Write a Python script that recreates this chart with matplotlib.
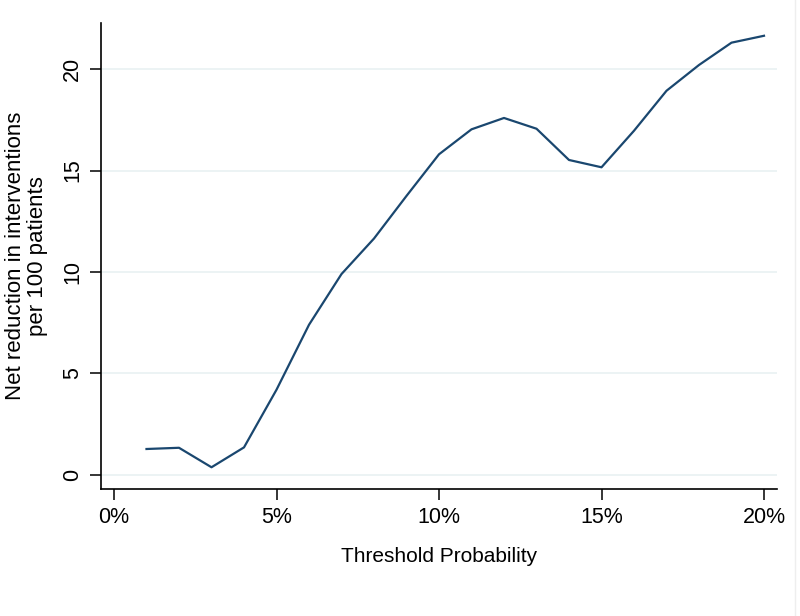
import matplotlib.pyplot as plt
import matplotlib.lines as mlines
from matplotlib.ticker import FuncFormatter

# net reduction in interventions per 100 patients, by threshold probability (%)
threshold = [1, 2, 3, 4, 5, 6, 7, 8, 9, 10, 11, 12, 13, 14, 15, 16, 17, 18, 19, 20]
net_reduction = [1.28, 1.34, 0.38, 1.36, 4.2, 7.4, 9.9, 11.65, 13.75, 15.8,
                 17.03, 17.59, 17.06, 15.52, 15.16, 16.96, 18.93, 20.2, 21.3, 21.64]
xticks = [0, 5, 10, 15, 20]
yticks = [0, 5, 10, 15, 20]

plt.rcParams['font.family'] = ['Liberation Sans', 'DejaVu Sans']

fig = plt.figure(figsize=(8, 6.16), dpi=100)
ax = fig.add_axes([0.12625, 0.2062, 0.845, 0.7565])

ax.plot(threshold, net_reduction, color='#1a476f', linewidth=1.6, zorder=3)

ax.set_xlim(-0.4, 20.4)
ax.set_ylim(-0.69, 22.27)
ax.set_xticks(xticks)
ax.set_yticks(yticks)
ax.xaxis.set_major_formatter(FuncFormatter(lambda v, p: '%d%%' % v))
ax.grid(axis='y', color='#eaf2f3', linewidth=1.3, zorder=0)
ax.set_axisbelow(True)

for s in ['top', 'right']:
    ax.spines[s].set_visible(False)
for s in ['left', 'bottom']:
    ax.spines[s].set_linewidth(1.2)
    ax.spines[s].set_color('black')

ax.tick_params(axis='both', length=8, width=1.1, labelsize=15.5, color='black')
ax.tick_params(axis='x', pad=5)
ax.tick_params(axis='y', pad=5)
for lab in ax.get_yticklabels():
    lab.set_rotation(90)
    lab.set_va('center')

ax.set_xlabel('Threshold Probability', fontsize=15, labelpad=14)
ax.set_ylabel('Net reduction in interventions\nper 100 patients', fontsize=16, labelpad=10,
              linespacing=1.05)

# faint border of graph region
fig.add_artist(mlines.Line2D([0.994, 0.994], [0, 1], transform=fig.transFigure,
                             color='#eeeeee', linewidth=1))

fig.savefig('out.png', dpi=100)
